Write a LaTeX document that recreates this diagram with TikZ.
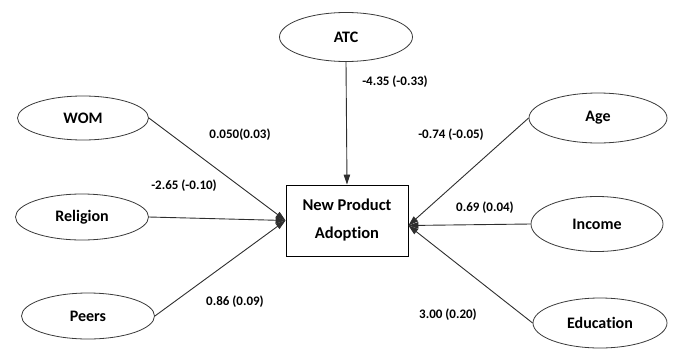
\documentclass[tikz,border=0pt]{standalone}
\usepackage{fontspec}
\setmainfont[Ligatures=NoCommon]{Carlito}
\usetikzlibrary{shapes.geometric,arrows.meta}
\definecolor{linegray}{HTML}{2E2E2E}
\definecolor{rimgray}{HTML}{3A3A3A}
\begin{document}
\begin{tikzpicture}[x=1pt,y=-1pt,
  factor/.style={ellipse,draw=rimgray,line width=0.8pt,fill=white,inner sep=0pt,
    minimum width=133pt,minimum height=46pt,font=\fontsize{16}{19}\selectfont\bfseries},
  outcome/.style={rectangle,draw=black,line width=0.9pt,fill=white,inner sep=0pt,
    minimum width=122pt,minimum height=71pt,align=center,
    font=\fontsize{16.5}{28}\selectfont\bfseries},
  path/.style={draw=linegray,line width=0.9pt,-{Triangle[length=10pt,width=6.5pt]}},
  coef/.style={inner sep=0pt,font=\fontsize{13}{15}\selectfont\bfseries}]
  \useasboundingbox (0,0) rectangle (674,348);

  % outcome variable
  \node[outcome] (npa) at (347,220.5) {New Product\\Adoption};

  % predictors
  \node[factor,minimum height=49pt] (atc) at (346,37) {ATC};
  \node[factor,minimum width=131pt,minimum height=44pt] (wom) at (83,118) {WOM};
  \node[factor] (rel) at (82,217) {Religion};
  \node[factor] (peers) at (88,316) {Peers};
  \node[factor,minimum width=138pt,minimum height=50pt] (age) at (598,118) {Age};
  \node[factor,minimum width=132pt,minimum height=55pt] (inc) at (597,224) {Income};
  \node[factor,minimum width=134pt,minimum height=50pt] (edu) at (600,323) {Education};

  % converging points on the box sides
  \coordinate (lhit) at (npa.west);
  \coordinate (rhit) at ([yshift=-5pt]npa.east);

  % paths
  \draw[path] (atc.south) -- (npa.north);
  \draw[path] (wom.east) -- (lhit);
  \draw[path] (rel.east) -- (lhit);
  \draw[path] (peers.east) -- (lhit);
  \draw[path] (age.west) -- (rhit);
  \draw[path] (inc.west) -- (rhit);
  \draw[path] (edu.west) -- (rhit);

  % path coefficients
  \node[coef] (c1) at (395,82) {-4.35 (-0.33)};
  \node[coef] (c2) at (240,135) {0.050(0.03)};
  \node[coef] (c3) at (184,186) {-2.65 (-0.10)};
  \node[coef] (c4) at (235,302) {0.86 (0.09)};
  \node[coef] (c5) at (451,135) {-0.74 (-0.05)};
  \node[coef] (c6) at (485,208) {0.69 (0.04)};
  \node[coef] (c7) at (448,315) {3.00 (0.20)};
\end{tikzpicture}
\end{document}
